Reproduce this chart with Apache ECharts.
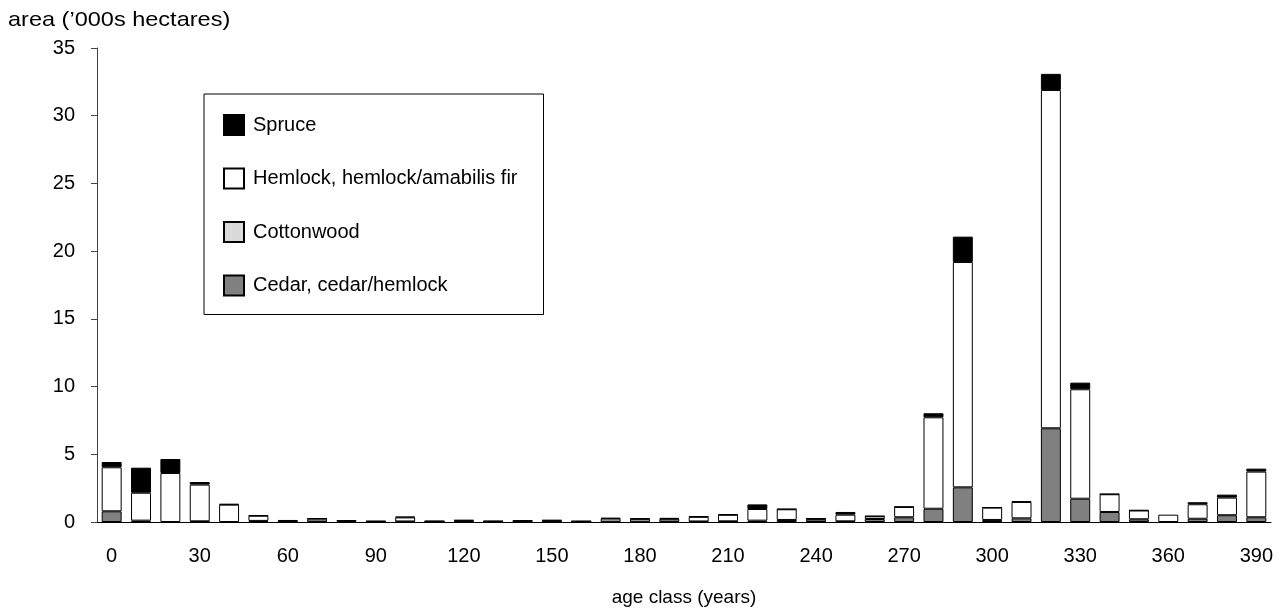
<!DOCTYPE html>
<html>
<head>
<meta charset="utf-8">
<script src="https://cdn.jsdelivr.net/npm/echarts@6/dist/echarts.min.js"></script>
<style>html,body{margin:0;padding:0;background:#fff}#c{width:1286px;height:616px}</style>
</head>
<body>
<div id="c"></div>
<script>
var ages = [0,10,20,30,40,50,60,70,80,90,100,110,120,130,140,150,160,170,180,190,200,210,220,230,240,250,260,270,280,290,300,310,320,330,340,350,360,370,380,390];
var cedar = [0.79,0.1,0,0.05,0,0.08,0.03,0.04,0.08,0.02,0.04,0.02,0.03,0.02,0.03,0.03,0.02,0.03,0.03,0.04,0.04,0.05,0.1,0.15,0.2,0.05,0.22,0.35,0.98,2.56,0.15,0.27,6.92,1.72,0.74,0.2,0,0.24,0.5,0.35];
var cottonwood = [0,0,0,0,0,0,0,0,0,0,0,0,0,0,0,0,0,0,0,0,0,0,0,0,0,0,0,0,0,0,0,0,0,0,0,0,0,0,0,0];
var hemlock = [3.25,2.06,3.62,2.71,1.28,0.38,0.04,0.2,0.04,0.02,0.3,0.03,0.07,0.03,0.05,0.07,0.03,0.22,0.2,0.19,0.34,0.48,0.86,0.79,0.04,0.49,0.2,0.76,6.75,16.64,0.91,1.21,24.98,8.08,1.31,0.65,0.54,1.07,1.3,3.37];
var spruce = [0.39,1.85,1.03,0.19,0.05,0.04,0.08,0.03,0,0.04,0.05,0.03,0.05,0.03,0.04,0.05,0.02,0.05,0.02,0.07,0.04,0.04,0.34,0.02,0.03,0.2,0.02,0.02,0.3,1.87,0.02,0.05,1.19,0.49,0.02,0.02,0,0.15,0.22,0.22];
var yTicks = {min:0, max:35, step:5};

function nz(a){return a.map(function(v){return v===0?null:v;});}
var font = 'Liberation Sans, Arial, sans-serif';
var chart = echarts.init(document.getElementById('c'));
function bar(name, data, color){
  return {name:name, type:'bar', stack:'a', data:nz(data), barCategoryGap:'32%',
    itemStyle:{color:color, borderColor:'#000', borderWidth:1}, emphasis:{disabled:true}, animation:false};
}
chart.setOption({
  animation:false,
  textStyle:{fontFamily:font, color:'#000'},
  grid:{left:97, right:15, top:48, bottom:94, containLabel:false},
  graphic:[{type:'text', x:8, y:10, scaleX:1.12, style:{text:"area (’000s hectares)", font:'21px '+font, fill:'#000', textVerticalAlign:'top'}}],
  legend:{orient:'vertical', left:204, top:94, data:['Spruce','Hemlock, hemlock/amabilis fir','Cottonwood','Cedar, cedar/hemlock'],
    icon:'rect', itemWidth:20, itemHeight:20, itemGap:31.5, padding:[20,26,18,19], borderColor:'#000', borderWidth:1,
    textStyle:{fontFamily:font, fontSize:20, color:'#000', padding:[0,0,0,4]}, selectedMode:false},
  xAxis:{type:'category', data:ages, boundaryGap:true,
    axisLine:{lineStyle:{color:'#000', width:1}}, axisTick:{show:false},
    axisLabel:{interval:2, fontSize:20, color:'#000', margin:24, fontFamily:font},
    name:'age class (years)', nameLocation:'middle', nameGap:66, nameTextStyle:{fontSize:19, color:'#000', fontFamily:font}},
  yAxis:{type:'value', min:yTicks.min, max:yTicks.max, interval:yTicks.step, splitLine:{show:false},
    axisLine:{show:true, lineStyle:{color:'#444'}}, axisTick:{show:true, length:6, lineStyle:{color:'#444'}},
    axisLabel:{fontSize:20, color:'#000', margin:22, fontFamily:font}},
  series:[
    bar('Cedar, cedar/hemlock', cedar, '#808080'),
    bar('Cottonwood', cottonwood, '#dadada'),
    bar('Hemlock, hemlock/amabilis fir', hemlock, '#ffffff'),
    bar('Spruce', spruce, '#000000')
  ]
});
</script>
</body>
</html>
